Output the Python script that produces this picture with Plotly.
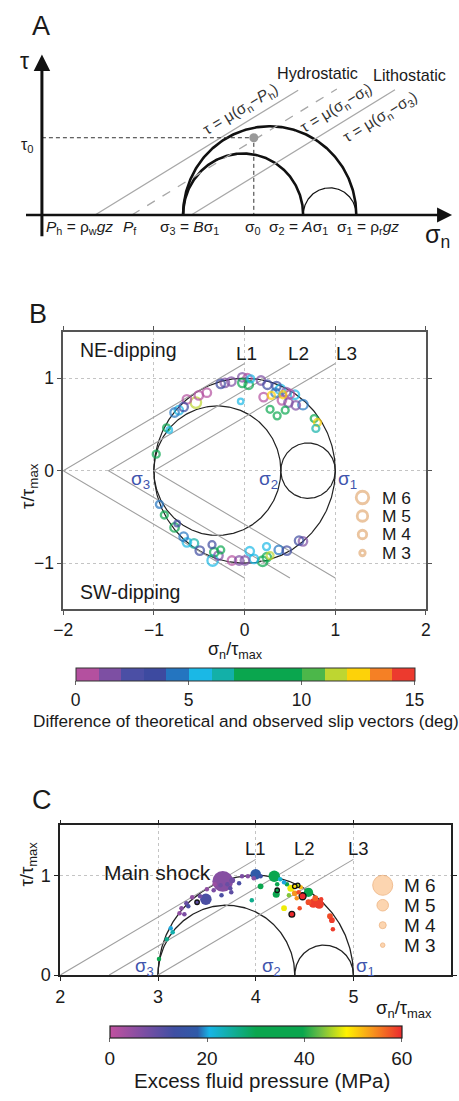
import numpy as np
import plotly.graph_objects as go

W, H = 459, 1101
FONT = "Liberation Sans, Arial, sans-serif"
BLUE_LBL = "#3f55ad"

# ---------------- Panel A : schematic Mohr diagram (arbitrary stress units) -------------
a_mu = 0.6
a_Ph = 1.69
a_Pf = 2.86
a_sigma3 = 4.49
a_sigma0 = 6.74
a_sigma2 = 8.31
a_sigma1 = 10.0
a_tau0 = 2.40
a_litho_start = 4.75
a_hydro_end = 8.15
a_fluid_end = 9.38
a_litho_end = 11.23

# ---------------- Panel B : normalized Mohr circle, slip-vector misfit -------------------
b_sigma = [-1.0, 0.4, 1.0]          # sigma3, sigma2, sigma1
b_line_origins = [-2.0, -1.5, -1.0]  # L1, L2, L3
b_line_span = 2.0
b_mu = 0.58
b_sn = [-0.974, -0.860, -0.830, -0.772, -0.725, -0.672, -0.636, -0.537, -0.505, -0.416,
        -0.263, -0.217, -0.146, -0.025, 0.032, -0.025, 0.046, 0.068, -0.043, 0.181,
        0.252, 0.352, 0.395, 0.210, 0.295, 0.341, 0.423, 0.459, 0.501, 0.555,
        0.412, 0.484, 0.565, 0.644, 0.281, 0.359, 0.448, 0.768, 0.804, 0.786,
        -0.939, -0.885, -0.772, -0.743, -0.672, -0.636, -0.558, -0.494, -0.359, -0.334,
        -0.352, -0.288, -0.263, -0.139, -0.060, 0.004, 0.057, 0.103, 0.199, 0.245,
        0.281, 0.242, 0.377, 0.466, 0.601, 0.644]
b_tau = [0.179, 0.464, 0.440, 0.629, 0.654, 0.689, 0.771, 0.736, 0.814, 0.843,
         0.939, 0.950, 0.964, 1.010, 1.000, 0.950, 0.929, 0.993, 0.750, 0.975,
         0.929, 0.914, 0.879, 0.796, 0.814, 0.843, 0.821, 0.850, 0.829, 0.821,
         0.761, 0.736, 0.707, 0.714, 0.664, 0.593, 0.654, 0.564, 0.521, 0.457,
         -0.364, -0.479, -0.614, -0.571, -0.714, -0.775, -0.786, -0.864, -0.800, -0.882,
         -0.971, -0.918, -0.857, -0.971, -0.971, -0.971, -0.871, -0.954, -0.979, -0.936,
         -0.918, -0.821, -0.857, -0.864, -0.757, -0.764]
b_diff = [8.5, 8.5, 5.5, 4.5, 5.5, 3.5, 0.5, 11.5, 0.5, 0.5,
          3.0, 1.5, 1.5, 1.5, 0.5, 8.5, 8.5, 5.5, 5.5, 1.5,
          3.5, 3.0, 5.5, 0.5, 12.5, 4.5, 12.5, 1.5, 0.5, 5.5,
          0.5, 1.5, 1.5, 4.5, 8.5, 8.5, 8.5, 9.5, 12.5, 6.5,
          4.5, 8.5, 8.5, 3.5, 4.5, 5.5, 6.5, 3.5, 3.5, 8.5,
          5.5, 1.5, 8.5, 0.5, 1.5, 1.5, 5.5, 5.5, 8.5, 9.5,
          11.5, 5.5, 4.5, 3.5, 3.5, 1.5]
b_mag = [3.5, 3.5, 3.0, 4.0, 4.0, 4.0, 4.0, 5.0, 4.0, 4.0,
         4.0, 4.0, 4.0, 4.0, 4.0, 4.0, 4.0, 3.5, 3.0, 4.0,
         4.0, 4.0, 4.5, 4.0, 3.5, 4.0, 3.5, 4.0, 4.0, 4.0,
         4.0, 4.0, 4.0, 4.5, 3.5, 3.5, 3.5, 3.5, 3.5, 3.5,
         3.5, 3.5, 4.0, 3.0, 4.0, 4.0, 4.0, 4.0, 3.5, 4.0,
         5.0, 4.0, 3.5, 4.0, 4.0, 4.0, 4.0, 4.0, 4.5, 4.0,
         3.5, 3.5, 4.0, 4.0, 4.0, 4.0]
b_cbar_colors = ["#b4509f", "#7d4fa3", "#4b4fa5", "#3d4aa0", "#2475c0",
                 "#1ab8e6", "#13b0a8", "#0aa64e", "#0aa64e", "#0aa64e",
                 "#4cb74a", "#bed631", "#fdd209", "#f58025", "#ec3a2e"]
b_cbar_ticks = [0, 5, 10, 15]
key_mags = [6, 5, 4, 3]
key_labels = ["M 6", "M 5", "M 4", "M 3"]

# ---------------- Panel C : upper half, excess fluid pressure ------------------------------
c_sigma = [3.0, 4.4, 5.0]
c_line_origins = [2.0, 2.5, 3.0]
c_sn = [3.663, 3.64, 3.71, 3.76, 3.74, 3.65, 3.57, 3.83, 3.86, 3.92,
        4.00, 3.98, 4.05, 4.19, 4.22, 4.25, 4.05, 4.29, 4.32, 4.21,
        4.22, 3.96, 4.36, 4.40, 4.43, 4.46, 4.34, 4.40, 4.44, 4.48,
        4.54, 4.42, 4.59, 4.65, 4.54, 4.61, 4.67, 4.29, 4.37, 4.45,
        4.76, 4.78, 4.79, 3.49, 3.40, 3.35, 3.43, 3.29, 3.31, 3.24,
        3.22, 3.27, 3.13, 3.15, 3.09, 3.01, 3.58, 3.50, 3.75]
c_tau = [0.94, 0.90, 0.91, 0.95, 0.87, 0.80, 0.85, 0.92, 0.99, 0.99,
         1.01, 0.97, 0.99, 0.99, 0.91, 0.96, 0.89, 0.93, 0.91, 0.81,
         0.85, 0.75, 0.87, 0.89, 0.90, 0.88, 0.80, 0.82, 0.83, 0.79,
         0.83, 0.77, 0.72, 0.71, 0.73, 0.77, 0.76, 0.67, 0.61, 0.67,
         0.59, 0.55, 0.46, 0.76, 0.73, 0.78, 0.79, 0.72, 0.69, 0.67,
         0.62, 0.61, 0.47, 0.43, 0.36, 0.16, 0.91, 0.86, 0.83]
c_pf = [6, 8, 9, 8, 10, 12, 7, 12, 7, 6,
        18, 6, 14, 32, 30, 22, 33, 20, 30, 32,
        36, 26, 48, 50, 46, 52, 44, 54, 58, 60,
        34, 54, 59, 59, 58, 57, 59, 48, 60, 58,
        58, 59, 59, 12, 10, 5, 8, 9, 12, 6,
        5, 7, 20, 24, 26, 32, 4, 5, 10]
c_mag = [6.2, 3.0, 3.0, 3.5, 3.0, 3.0, 3.0, 3.0, 3.0, 3.0,
         4.8, 3.0, 3.0, 5.0, 3.0, 3.0, 3.5, 3.0, 3.0, 4.0,
         3.0, 3.0, 4.0, 3.0, 3.0, 3.0, 3.0, 3.5, 3.0, 4.0,
         4.5, 3.0, 4.5, 4.5, 3.5, 3.5, 3.0, 3.5, 3.5, 3.0,
         3.5, 3.5, 3.0, 5.0, 3.0, 3.0, 3.0, 3.0, 3.0, 3.0,
         3.0, 3.0, 3.0, 3.0, 3.0, 3.0, 3.0, 3.0, 3.0]
c_black_rim = [0, 0, 0, 0, 0, 0, 0, 0, 0, 0,
               0, 0, 0, 0, 0, 0, 0, 0, 0, 0,
               1, 0, 0, 1, 1, 0, 0, 0, 0, 1,
               0, 0, 0, 0, 0, 0, 0, 0, 1, 0,
               0, 0, 0, 0, 1, 0, 0, 0, 0, 0,
               0, 0, 0, 0, 0, 0, 0, 0, 0]
c_cbar_scale = [[0.0, "#c1519f"], [0.12, "#7a4ea3"], [0.22, "#3f4fa3"], [0.30, "#2f5aa8"],
                [0.34, "#17b4e6"], [0.50, "#0aa64e"], [0.66, "#0aa64e"], [0.72, "#6cbd45"],
                [0.81, "#fff200"], [0.90, "#f7941d"], [1.0, "#ec2a2e"]]
c_cbar_ticks = [0, 20, 40, 60]


# ---------------- helpers -----------------
def fx(px):
    return px / W


def fy(py):
    return 1 - py / H


def arc(c, r, t0, t1, n=240):
    t = np.linspace(t0, t1, n)
    return c + r * np.cos(t), r * np.sin(t)


def b_size(m):
    return np.interp(m, [3, 4, 5, 6], [5.5, 8.5, 10.5, 12.5])


def c_size(m):
    return np.interp(m, [3, 4, 5, 6, 7], [4.5, 7, 11.5, 20, 24])


fig = go.Figure()

# ================= Panel A =================
A_K = 32.5                       # px per unit
A_OX, A_OY = 33, 217             # origin in px
A_PX = (0, 459)
A_PY = (40, 250)
ax_a = dict(xaxis="x", yaxis="y")

circA = [(a_sigma3, a_sigma1, 2.6), (a_sigma3, a_sigma2, 2.6), (a_sigma2, a_sigma1, 1.2)]
for lo, hi, w in circA:
    xs, ys = arc((lo + hi) / 2, (hi - lo) / 2, 0, np.pi)
    fig.add_trace(go.Scatter(x=xs, y=ys, mode="lines", line=dict(color="#111", width=w),
                             hoverinfo="skip", **ax_a))

for x0, x1, dash in [(a_Ph, a_hydro_end, "solid"), (a_Pf, a_fluid_end, "dash"),
                     (a_litho_start, a_litho_end, "solid")]:
    fig.add_trace(go.Scatter(x=[x0, x1], y=[0, a_mu * (x1 - x0)], mode="lines",
                             line=dict(color="#a8a8a8", width=1.3, dash=dash),
                             hoverinfo="skip", **ax_a))

fig.add_trace(go.Scatter(x=[0, a_sigma0, a_sigma0], y=[a_tau0, a_tau0, 0], mode="lines",
                         line=dict(color="#333", width=1, dash="4px,3px"), hoverinfo="skip", **ax_a))
fig.add_trace(go.Scatter(x=[a_sigma0], y=[a_tau0], mode="markers",
                         marker=dict(color="#999", size=9), hoverinfo="skip", **ax_a))

# ================= Panel B =================
ax_b = dict(xaxis="x2", yaxis="y2")
for lo, hi in [(b_sigma[0], b_sigma[2]), (b_sigma[0], b_sigma[1]), (b_sigma[1], b_sigma[2])]:
    xs, ys = arc((lo + hi) / 2, (hi - lo) / 2, 0, 2 * np.pi, 400)
    fig.add_trace(go.Scatter(x=xs, y=ys, mode="lines", line=dict(color="#222", width=1.2),
                             hoverinfo="skip", **ax_b))
for o in b_line_origins:
    e = o + b_line_span
    fig.add_trace(go.Scatter(x=[e, o, e], y=[b_mu * b_line_span, 0, -b_mu * b_line_span],
                             mode="lines", line=dict(color="#a0a0a0", width=1.1),
                             hoverinfo="skip", **ax_b))

ordB = np.argsort(-np.array(b_mag))
fig.add_trace(go.Scatter(
    x=np.array(b_sn)[ordB], y=np.array(b_tau)[ordB], mode="markers",
    marker=dict(symbol="circle-open", size=b_size(np.array(b_mag)[ordB]),
                color=np.array(b_diff)[ordB], coloraxis="coloraxis", line=dict(width=2.3)),
    hoverinfo="skip", **ax_b))

# key (B)
b_key_x, b_key_y0, b_key_dy = 1.30, -0.29, -0.20
fig.add_trace(go.Scatter(
    x=[b_key_x] * len(key_mags), y=[b_key_y0 + i * b_key_dy for i in range(len(key_mags))],
    mode="markers", marker=dict(symbol="circle-open", size=b_size(np.array(key_mags)),
                                color="#e2ad78", line=dict(width=2.8)),
    hoverinfo="skip", **ax_b))

# ================= Panel C =================
ax_c = dict(xaxis="x3", yaxis="y3")
for lo, hi in [(c_sigma[0], c_sigma[2]), (c_sigma[0], c_sigma[1]), (c_sigma[1], c_sigma[2])]:
    xs, ys = arc((lo + hi) / 2, (hi - lo) / 2, 0, np.pi)
    fig.add_trace(go.Scatter(x=xs, y=ys, mode="lines", line=dict(color="#222", width=1.3),
                             hoverinfo="skip", **ax_c))
for o in c_line_origins:
    e = o + b_line_span
    fig.add_trace(go.Scatter(x=[o, e], y=[0, b_mu * b_line_span], mode="lines",
                             line=dict(color="#a0a0a0", width=1.1), hoverinfo="skip", **ax_c))

ordC = np.argsort(-np.array(c_mag))
rim = np.array(c_black_rim)[ordC]
fig.add_trace(go.Scatter(
    x=np.array(c_sn)[ordC], y=np.array(c_tau)[ordC], mode="markers",
    marker=dict(symbol="circle", size=c_size(np.array(c_mag)[ordC]),
                color=np.array(c_pf)[ordC], coloraxis="coloraxis2", opacity=1,
                line=dict(color=["#111" if r else "rgba(0,0,0,0)" for r in rim],
                          width=[1.3 if r else 0 for r in rim])),
    hoverinfo="skip", **ax_c))

c_key_x, c_key_y0, c_key_dy = 5.30, 0.90, -0.20
fig.add_trace(go.Scatter(
    x=[c_key_x] * len(key_mags), y=[c_key_y0 + i * c_key_dy for i in range(len(key_mags))],
    mode="markers", marker=dict(symbol="circle", size=c_size(np.array(key_mags)),
                                color="#fbc48f", line=dict(color="#eca262", width=1)),
    hoverinfo="skip", **ax_c))

# ================= annotations =================
ann = []


def txt(text, x, y, size, ref=("paper", "paper"), color="#1a1a1a", angle=0, xanchor="center",
        yanchor="middle"):
    ann.append(dict(text=text, x=x, y=y, xref=ref[0], yref=ref[1], showarrow=False,
                    font=dict(family=FONT, size=size, color=color), textangle=angle,
                    xanchor=xanchor, yanchor=yanchor))


# Panel A
def ax_(px):
    return (px - A_OX) / A_K


def ay_(py):
    return (A_OY - py) / A_K


refA = ("x", "y")
ann.append(dict(x=0, y=ay_(55), ax=0, ay=ay_(240), xref="x", yref="y", axref="x", ayref="y",
                showarrow=True, arrowhead=2, arrowsize=1.1, arrowwidth=3, arrowcolor="#111", text=""))
ann.append(dict(x=ax_(457), y=0, ax=ax_(15), ay=0, xref="x", yref="y", axref="x", ayref="y",
                showarrow=True, arrowhead=2, arrowsize=1.2, arrowwidth=2.5, arrowcolor="#111", text=""))
txt("A", fx(32), fy(26), 27)
txt("τ", ax_(15), ay_(62), 23, refA)
txt("τ<sub>0</sub>", ax_(18), ay_(147), 16, refA)
txt("σ<sub>n</sub>", ax_(442), ay_(238), 25, refA)
txt("<i>P</i><sub>h</sub> = ρ<sub>w</sub><i>gz</i>", ax_(72), ay_(230), 15.5, refA)
txt("<i>P</i><sub>f</sub>", ax_(124), ay_(230), 15.5, refA)
txt("σ<sub>3</sub> = <i>B</i>σ<sub>1</sub>", ax_(186), ay_(230), 15.5, refA)
txt("σ<sub>0</sub>", ax_(251), ay_(230), 15.5, refA)
txt("σ<sub>2</sub> = <i>A</i>σ<sub>1</sub>", ax_(298), ay_(230), 15.5, refA)
txt("σ<sub>1</sub> = ρ<sub>r</sub><i>gz</i>", ax_(370), ay_(230), 15.5, refA)
txt("Hydrostatic", ax_(318), ay_(74), 16.2, refA)
txt("Lithostatic", ax_(413), ay_(76), 16.2, refA)
txt("τ = μ(σ<sub>n</sub>−<i>P</i><sub>h</sub>)", ax_(239), ay_(111), 15.5, refA, color="#333", angle=-31)
txt("τ = μ(σ<sub>n</sub>−σ<sub>f</sub>)", ax_(337), ay_(109), 15.5, refA, color="#333", angle=-31)
txt("τ = μ(σ<sub>n</sub>−σ<sub>3</sub>)", ax_(383), ay_(119), 15.5, refA, color="#333", angle=-31)

# Panel B
refB = ("x2", "y2")
txt("B", fx(29), fy(317), 27)
txt("NE-dipping", -1.28, 1.30, 19.5, refB)
txt("SW-dipping", -1.26, -1.31, 19.5, refB)
for lab, xx in zip(["L1", "L2", "L3"], [0.02, 0.59, 1.12]):
    txt(lab, xx, 1.27, 19, refB)
for lab, xx in zip(["σ<sub>3</sub>", "σ<sub>2</sub>", "σ<sub>1</sub>"], [-1.15, 0.26, 1.14]):
    txt(lab, xx, -0.10, 19, refB, color=BLUE_LBL)
for i, lab in enumerate(key_labels):
    txt(lab, 1.49, b_key_y0 + i * b_key_dy, 17.4, refB, xanchor="left")
txt("σ<sub>n</sub>/τ<sub>max</sub>", fx(233), fy(656), 18)
txt("τ/τ<sub>max</sub>", fx(19), fy(490), 19, angle=-90)
txt("Difference of theoretical and observed slip vectors (deg)", fx(244), fy(728), 17.2)

# Panel C
refC = ("x3", "y3")
txt("C", fx(33), fy(807), 27)
txt("Main shock", 2.99, 1.03, 21, refC)
for lab, xx in zip(["L1", "L2", "L3"], [4.0, 4.5, 5.05]):
    txt(lab, xx, 1.27, 18.5, refC)
for lab, xx in zip(["σ<sub>3</sub>", "σ<sub>2</sub>", "σ<sub>1</sub>"], [2.86, 4.16, 5.12]):
    txt(lab, xx, 0.08, 18.5, refC, color=BLUE_LBL)
for i, lab in enumerate(key_labels):
    txt(lab, 5.50, c_key_y0 + i * c_key_dy, 19, refC, xanchor="left")
txt("σ<sub>n</sub>/τ<sub>max</sub>", fx(407), fy(1018), 18.5)
txt("τ/τ<sub>max</sub>", fx(19), fy(872), 18.5, angle=-90)
txt("Excess fluid pressure (MPa)", fx(260), fy(1090), 20.5)

# ================= layout =================
b_scale = []
nb = len(b_cbar_colors)
for i, c in enumerate(b_cbar_colors):
    b_scale.append([i / nb, c])
    b_scale.append([(i + 1) / nb, c])

frame = dict(showline=True, mirror="ticks", ticks="outside", ticklen=4, zeroline=False,
             showgrid=True, griddash="dot", gridcolor="#c4c4c4", gridwidth=1,
             tickfont=dict(family=FONT, size=17.5, color="#1a1a1a"))

fig.update_layout(
    width=W, height=H, margin=dict(l=0, r=0, t=0, b=0),
    paper_bgcolor="white", plot_bgcolor="white", showlegend=False,
    font=dict(family=FONT, color="#1a1a1a"),
    xaxis=dict(domain=[fx(A_PX[0]), fx(A_PX[1])], range=[ax_(A_PX[0]), ax_(A_PX[1])],
               visible=False, anchor="y"),
    yaxis=dict(domain=[fy(A_PY[1]), fy(A_PY[0])], range=[ay_(A_PY[1]), ay_(A_PY[0])],
               visible=False, anchor="x"),
    xaxis2=dict(domain=[fx(55), fx(430)], range=[-2, 2], tickvals=[-2, -1, 0, 1, 2],
                anchor="y2", linecolor="#555", linewidth=1.5, tickcolor="#555", **frame),
    yaxis2=dict(domain=[fy(615), fy(335)], range=[-1.5, 1.5], tickvals=[-1, 0, 1],
                anchor="x2", linecolor="#555", linewidth=1.5, tickcolor="#555", **frame),
    xaxis3=dict(domain=[fx(52), fx(456)], range=[2, 6], tickvals=[2, 3, 4, 5],
                anchor="y3", linecolor="#222", linewidth=1.8, tickcolor="#222",
                **{**frame, "tickfont": dict(family=FONT, size=18, color="#1a1a1a")}),
    yaxis3=dict(domain=[fy(984), fy(833)], range=[0, 1.5], tickvals=[0, 1],
                anchor="x3", linecolor="#222", linewidth=1.8, tickcolor="#222",
                **{**frame, "tickfont": dict(family=FONT, size=18, color="#1a1a1a")}),
    coloraxis=dict(colorscale=b_scale, cmin=0, cmax=15,
                   colorbar=dict(orientation="h", x=fx(243), xanchor="center",
                                 y=fy(674), yanchor="top", len=350 / W, lenmode="fraction",
                                 thickness=13, xpad=0, ypad=0, outlinewidth=1,
                                 outlinecolor="#333", tickvals=b_cbar_ticks, ticks="outside",
                                 ticklen=4, tickcolor="#666",
                                 tickfont=dict(family=FONT, size=17.5, color="#1a1a1a"))),
    coloraxis2=dict(colorscale=c_cbar_scale, cmin=0, cmax=60,
                    colorbar=dict(orientation="h", x=fx(254), xanchor="center",
                                  y=fy(1035), yanchor="top", len=302 / W, lenmode="fraction",
                                  thickness=12, xpad=0, ypad=0, outlinewidth=1.2,
                                  outlinecolor="#222", tickvals=c_cbar_ticks, ticks="outside",
                                  ticklen=4, tickcolor="#666",
                                  tickfont=dict(family=FONT, size=19, color="#1a1a1a"))),
    annotations=ann,
)

fig.write_html("out.html")
